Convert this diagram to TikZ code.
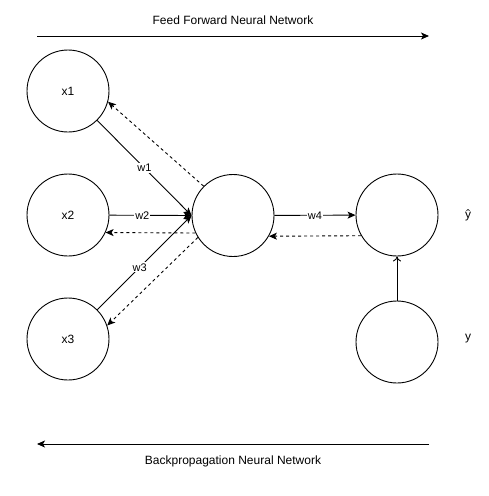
\documentclass[tikz,border=0pt]{standalone}
\usepackage{fontspec}
\setmainfont{Liberation Sans}
\usetikzlibrary{arrows.meta}
\begin{document}
\begin{tikzpicture}[x=1pt, y=-1pt, line width=0.9pt,
	neuron/.style={circle, draw, minimum size=82pt, inner sep=0pt, font=\fontsize{12}{14}\selectfont},
	fwd/.style={-{Stealth[length=8pt, width=7pt, inset=2pt]}},
	back/.style={fwd, dashed, dash pattern=on 3pt off 3pt},
	wlbl/.style={fill=white, inner sep=1pt, font=\fontsize{11}{13}\selectfont}]
					\useasboundingbox (0,0) rectangle (488,496);
					
					\node[neuron] (x1) at (68,91) {x1};
					\node[neuron] (x2) at (68,215) {x2};
					\node[neuron] (x3) at (68,339) {x3};
					\node[neuron] (h) at (233,215.5) {};
					\node[neuron] (out) at (397,215) {};
					\node[neuron] (y) at (397,342) {};
					\node[font=\fontsize{12}{14}\selectfont] (yhat) at (468,215) {ŷ};
					\node[font=\fontsize{12}{14}\selectfont] (ylbl) at (468,339) {y};
					
					% forward pass
					\draw[fwd] (x1) -- node[wlbl]{w1} (h.west);
					\draw[fwd] (x2) -- node[wlbl, pos=0.4]{w2} (h.west);
					\draw[fwd] (x3) -- node[wlbl, pos=0.45]{w3} (h.west);
					\draw[fwd] (h) -- node[wlbl]{w4} (out);
					\draw[-{To[length=5pt, width=8pt]}] (y) -- (out);
					
					% backward pass
					\draw[back] (h.135) -- (x1.-15);
					\draw[back] (h.205) -- (x2.-25);
					\draw[back] (h.212) -- (x3.19);
					\draw[back] (out.210) -- (h.-30);
					
					\coordinate (ffl) at (37,36);
					\coordinate (ffr) at (429,36);
					\coordinate (bpl) at (37,444);
					\coordinate (bpr) at (429,444);
					\draw[fwd] (ffl) -- node[above=8pt, font=\fontsize{12}{14}\selectfont]{Feed Forward Neural Network} (ffr);
					\draw[fwd] (bpr) -- node[below=8pt, font=\fontsize{12}{14}\selectfont]{Backpropagation Neural Network} (bpl);
\end{tikzpicture}
\end{document}
